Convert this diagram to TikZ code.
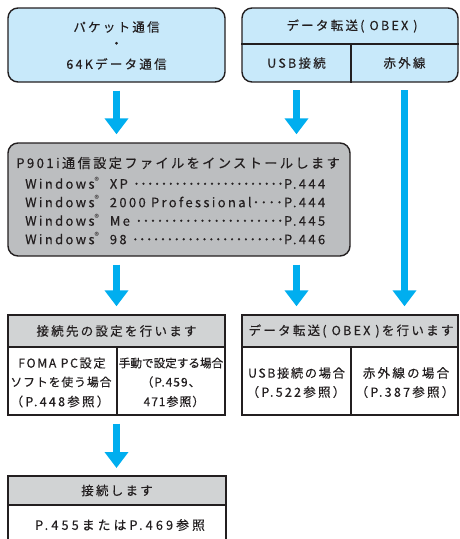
\documentclass[tikz,border=0pt]{standalone}
\usepackage{fontspec}
\setmainfont{Noto Sans CJK JP}
\newfontfamily\jw[LetterSpace=18,FakeBold=0.35]{Noto Sans CJK JP}
\newfontfamily\jx[LetterSpace=24,FakeBold=0.35]{Noto Sans CJK JP}
\newfontfamily\jn[LetterSpace=13,FakeBold=0.35]{Noto Sans CJK JP}
\newfontfamily\jm[LetterSpace=8,FakeBold=0.35]{Noto Sans CJK JP}
\newfontfamily\jt[FakeBold=0.35]{Noto Sans CJK JP}
\newfontfamily\jreg{Noto Sans CJK JP}
\usetikzlibrary{arrows.meta}
\definecolor{boxblue}{HTML}{C8E9FA}
\definecolor{arrowblue}{HTML}{00AEEF}
\definecolor{graybox}{HTML}{BCBEC0}
\definecolor{headgray}{HTML}{D1D3D4}
\definecolor{ink}{HTML}{231F20}
\newcommand\dotlead{\xleaders\hbox to 6.8pt{\hss･\hss}\hfill}
\newcommand\regm{\textsuperscript{\jreg ®}}
\tikzset{
  frame/.style={draw=ink, line width=1.4pt},
  rbox/.style={frame, rounded corners=10pt, inner sep=0pt},
  tbox/.style={frame, inner sep=0pt, fill=white},
  txt/.style={inner sep=0pt, text=ink, font={\jw\fontsize{12.5}{15}\selectfont}},
  txtn/.style={inner sep=0pt, text=ink, font={\jn\fontsize{12.3}{15}\selectfont}},
  txtm/.style={inner sep=0pt, text=ink, font={\jm\fontsize{12}{15}\selectfont}},
  txtt/.style={inner sep=0pt, text=ink, font={\jt\fontsize{11.6}{15}\selectfont}},
  win/.style={inner sep=0pt, text=ink, anchor=west, font={\jw\fontsize{13}{15}\selectfont}},
  cell/.style={inner sep=0pt, text=ink, font={\jw\fontsize{12.5}{15}\selectfont}},
  barrow/.style={draw=arrowblue, line width=7.5pt, -{Triangle[width=23pt,length=16pt]}, shorten <=8pt, shorten >=8pt}
}
\begin{document}
\begin{tikzpicture}[x=1pt,y=-1pt]
\useasboundingbox (0,0) rectangle (459,539);

% top-left box
\node[rbox, fill=boxblue, minimum width=217pt, minimum height=74pt] (tl) at (116.5,45) {};
\node[txt] (tl1) at (116.5,27) {パケット通信};
\node[txt] (tl2) at (116.5,45) {・};
\node[txt] (tl3) at (116.5,64) {64Kデータ通信};

% top-right box
\node[rbox, fill=boxblue, minimum width=216pt, minimum height=74pt] (tr) at (350,45) {};
\draw[frame] (tr.west |- 0,44) -- (tr.east |- 0,44);
\draw[frame] (351,44) -- (tr.south -| 351,0);
\node[txt] (trh) at (352,26) {データ転送( OBEX )};
\node[cell, minimum width=109pt, minimum height=38pt] (usb) at (296.5,63) {USB接続};
\node[cell, minimum width=107pt, minimum height=38pt] (ir) at (404.5,63) {赤外線};

% gray box
\node[rbox, fill=graybox, minimum width=342pt, minimum height=113pt] (gray) at (179,199.5) {};
\node[txt, font={\jw\fontsize{13.2}{15}\selectfont}] (gt) at (178,163) {P901i通信設定ファイルをインストールします};
\node[win] (w1) at (25,183) {\hbox to 300pt{Windows\regm\ \ XP \dotlead P.444}};
\node[win] (w2) at (25,201.5) {\hbox to 300pt{Windows\regm\ \ 2000 Professional\dotlead P.444}};
\node[win] (w3) at (25,220) {\hbox to 300pt{Windows\regm\ \ Me \dotlead P.445}};
\node[win] (w4) at (25,238.5) {\hbox to 300pt{Windows\regm\ \ 98 \dotlead P.446}};

% bottom-left table
\fill[headgray] (8,315) rectangle (225,347);
\node[tbox, fill=none, minimum width=217pt, minimum height=100pt] (bl) at (116.5,365) {};
\draw[frame] (8,347) -- (225,347);
\draw[frame] (117,347) -- (117,415);
\node[txt] (blh) at (116.5,331) {接続先の設定を行います};
\node[txtn] (bl1) at (62,363) {FOMA PC設定};
\node[txtt, font={\jm\fontsize{11.8}{15}\selectfont}] (bl2) at (61,382) {ソフトを使う場合};
\node[txt] (bl3) at (60,401.5) {（P.448参照）};
\node[txtt] (bl4) at (171,363) {手動で設定する場合};
\node[txtm] (bl5) at (171,382) {（P.459、};
\node[txtm] (bl6) at (174,401.5) {471参照）};

% bottom-right table
\fill[headgray] (242,315) rectangle (458,347);
\node[tbox, fill=none, minimum width=216pt, minimum height=100pt] (br) at (350,365) {};
\draw[frame] (242,347) -- (458,347);
\draw[frame] (351,347) -- (351,415);
\node[txt] (brh) at (351,331) {データ転送( OBEX )を行います};
\node[txtn] (br1) at (296.5,373) {USB接続の場合};
\node[txt] (br2) at (296,392) {（P.522参照）};
\node[txt] (br3) at (406,373) {赤外線の場合};
\node[txt] (br4) at (405,392) {（P.387参照）};

% final table
\fill[headgray] (8,476) rectangle (226,505);
\draw[frame] (8,548) -- (8,476) -- (226,476) -- (226,548);
\draw[frame] (8,505) -- (226,505);
\coordinate (fin) at (117,476);
\node[txt] (fh) at (117,490.5) {接続します};
\node[txt, font={\jx\fontsize{12.8}{15}\selectfont}] (fb) at (120,525) {P.455またはP.469参照};

% arrows
\draw[barrow] (tl.south) -- (tl.south |- gray.north);
\draw[barrow] (usb.south) -- (usb.south |- gray.north);
\draw[barrow] (ir.south) -- (ir.south |- br.north);
\draw[barrow] (tl.south |- gray.south) -- (tl.south |- bl.north);
\draw[barrow] (usb.south |- gray.south) -- (usb.south |- br.north);
\draw[barrow] (bl.south) -- (bl.south |- fin);
\end{tikzpicture}
\end{document}
